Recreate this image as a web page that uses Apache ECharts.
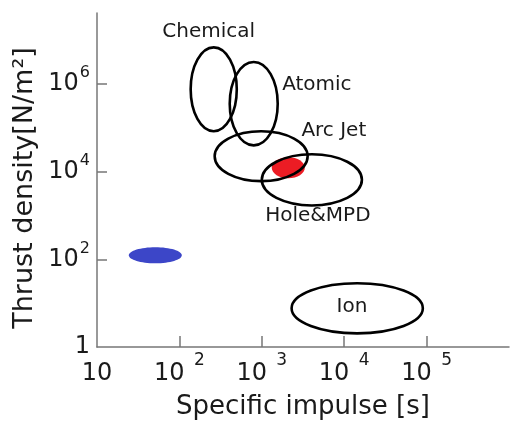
<!DOCTYPE html>
<html>
<head>
<meta charset="utf-8">
<script src="https://cdn.jsdelivr.net/npm/echarts@6/dist/echarts.min.js"></script>
<style>
html,body{margin:0;padding:0;background:#fff}
#chart{width:512px;height:421px}
</style>
</head>
<body>
<div id="chart"></div>
<script>
// 推进器类型 (空心椭圆)
var engineNames = ['Chemical', 'Atomic', 'Arc Jet', 'Hole&MPD', 'Ion'];
// 比冲范围 [s]
var ispLow  = [137, 408, 268, 1000, 2300];
var ispHigh = [497, 1560, 3600, 16400, 90000];
// 推力密度范围 [N/m^2]
var thrustLow  = [8.4e4, 4.0e4, 6.1e3, 1.7e3, 2.05];
var thrustHigh = [6.9e6, 3.2e6, 8.4e4, 2.5e4, 28.5];
// 文字标签位置
var labelIsp    = [227, 4660, 7480, 4790, 12400];
var labelThrust = [1.6e7, 9.4e5, 8.4e4, 964, 8.06];
// 实心区域 (红, 蓝)
var spotIspLow     = [1320, 24.3];
var spotIspHigh    = [3330, 107];
var spotThrustLow  = [7100, 81.5];
var spotThrustHigh = [2.14e4, 190];
var spotColors = ['#ec1c24', '#3c46c8'];
// 刻度
var xTicks = [100, 1000, 10000, 100000];
var xLabels = [10, 100, 1000, 10000, 100000];
var yTicks = [100, 10000, 1000000];
var yLabels = [1, 100, 10000, 1000000];

var font = 'DejaVu Sans';

function powLabel(v, gap) {
    var e = Math.round(Math.log10(v));
    if (e === 0) return '{b|1}';
    if (e === 1) return '{b|10}';
    return '{b|10}{s|' + gap + e + '}';
}

var ovalData = [];
for (var i = 0; i < engineNames.length; i++) {
    ovalData.push([ispLow[i], ispHigh[i], thrustLow[i], thrustHigh[i]]);
}
var spotData = [];
for (var j = 0; j < spotColors.length; j++) {
    spotData.push([spotIspLow[j], spotIspHigh[j], spotThrustLow[j], spotThrustHigh[j]]);
}
var textData = [];
for (var k = 0; k < engineNames.length; k++) {
    textData.push([labelIsp[k], labelThrust[k]]);
}

function ovalShape(api) {
    var p1 = api.coord([api.value(0), api.value(2)]);
    var p2 = api.coord([api.value(1), api.value(3)]);
    return {
        cx: (p1[0] + p2[0]) / 2,
        cy: (p1[1] + p2[1]) / 2,
        rx: Math.abs(p2[0] - p1[0]) / 2,
        ry: Math.abs(p2[1] - p1[1]) / 2
    };
}

var myChart = echarts.init(document.getElementById('chart'));
var option = {
    animation: false,
    grid: {left: 97, right: 3, top: 13, bottom: 74, outerBoundsMode: 'none', containLabel: false},
    xAxis: {
        type: 'log',
        logBase: 10,
        min: 10,
        max: 1000000,
        name: 'Specific impulse [s]',
        nameLocation: 'middle',
        nameGap: 47,
        nameMoveOverlap: false,
        nameTextStyle: {fontFamily: font, fontSize: 26, color: '#1a1a1a'},
        axisLine: {lineStyle: {color: '#777', width: 1.5}},
        axisTick: {inside: true, length: 11, lineStyle: {color: '#777', width: 1.5}, customValues: xTicks},
        splitLine: {show: false},
        minorTick: {show: false},
        axisLabel: {
            customValues: xLabels,
            margin: 4,
            formatter: function (v) { return powLabel(v, ' '); },
            rich: {
                b: {fontFamily: font, fontSize: 24, color: '#1a1a1a', lineHeight: 46},
                s: {fontFamily: font, fontSize: 17, color: '#1a1a1a', lineHeight: 20, padding: [0, 0, 26, 4]}
            }
        }
    },
    yAxis: {
        type: 'log',
        logBase: 10,
        min: 1,
        max: 4.19e7,
        name: 'Thrust density[N/m²]',
        nameLocation: 'middle',
        nameGap: 59,
        nameMoveOverlap: false,
        nameTextStyle: {fontFamily: font, fontSize: 27, color: '#1a1a1a', padding: [0, 16, 0, 0]},
        axisLine: {lineStyle: {color: '#777', width: 1.5}},
        axisTick: {inside: true, length: 10, lineStyle: {color: '#777', width: 1.5}, customValues: yTicks},
        splitLine: {show: false},
        minorTick: {show: false},
        axisLabel: {
            customValues: yLabels,
            margin: 7,
            formatter: function (v) { return powLabel(v, ''); },
            rich: {
                b: {fontFamily: font, fontSize: 24, color: '#1a1a1a', lineHeight: 40},
                s: {fontFamily: font, fontSize: 16, color: '#1a1a1a', lineHeight: 18, padding: [0, 0, 22, 1]}
            }
        }
    },
    series: [{
        name: 'spot',
        type: 'custom',
        data: spotData,
        encode: {x: [0, 1], y: [2, 3]},
        renderItem: function (params, api) {
            return {
                type: 'ellipse',
                shape: ovalShape(api),
                style: {fill: spotColors[params.dataIndex], stroke: null}
            };
        },
        z: 2
    }, {
        name: 'oval',
        type: 'custom',
        data: ovalData,
        encode: {x: [0, 1], y: [2, 3]},
        renderItem: function (params, api) {
            return {
                type: 'ellipse',
                shape: ovalShape(api),
                style: {fill: null, stroke: '#000', lineWidth: 2.6}
            };
        },
        z: 3
    }, {
        name: 'label',
        type: 'custom',
        data: textData,
        encode: {x: 0, y: 1},
        renderItem: function (params, api) {
            var p = api.coord([api.value(0), api.value(1)]);
            return {
                type: 'text',
                x: p[0],
                y: p[1],
                style: {
                    text: engineNames[params.dataIndex],
                    fontFamily: font,
                    fontSize: 20,
                    fill: '#1a1a1a',
                    align: 'center',
                    verticalAlign: 'middle'
                }
            };
        },
        z: 4
    }]
};
myChart.setOption(option);
</script>
</body>
</html>
